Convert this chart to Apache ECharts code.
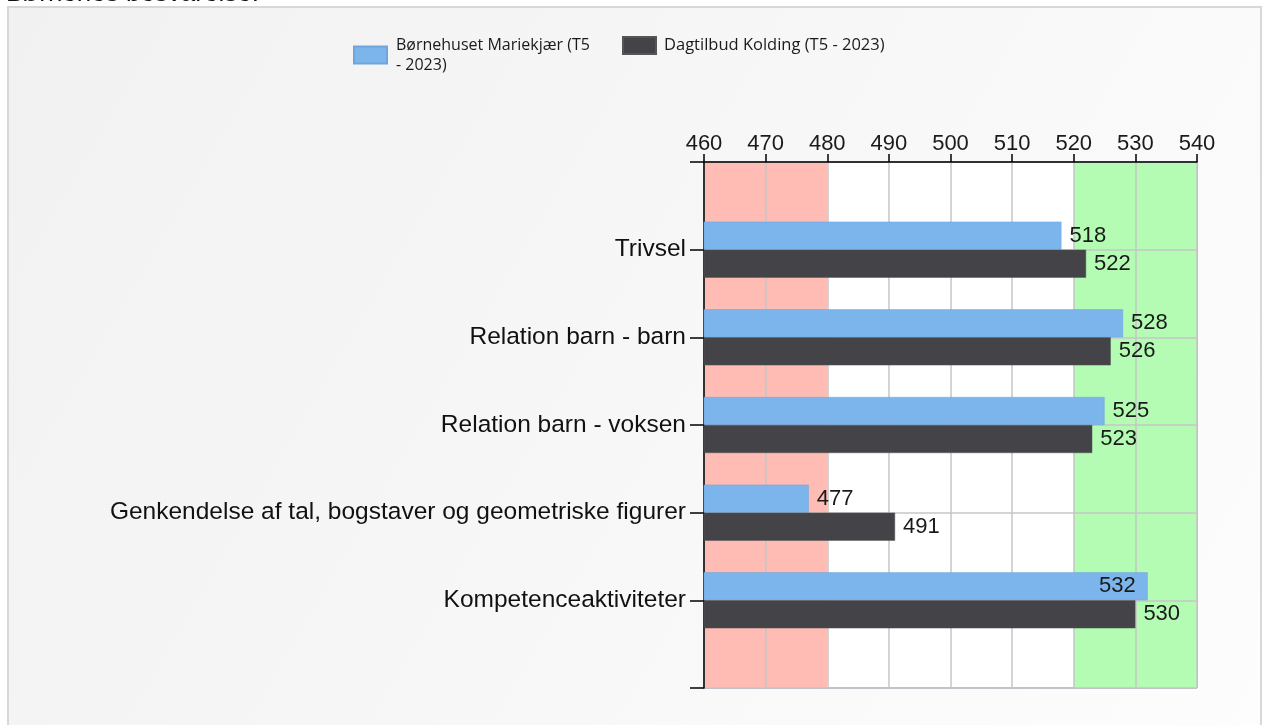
<!DOCTYPE html>
<html><head><meta charset="utf-8">
<script src="https://cdn.jsdelivr.net/npm/echarts@6/dist/echarts.min.js"></script>
<style>html,body{margin:0;padding:0;background:#fff;}#c{width:1264px;height:725px;}</style>
</head><body><div id="c"></div>
<script>
const categories = ['Trivsel', 'Relation barn - barn', 'Relation barn - voksen', 'Genkendelse af tal, bogstaver og geometriske figurer', 'Kompetenceaktiviteter'];
const seriesNames = ['Børnehuset Mariekjær (T5 - 2023)', 'Dagtilbud Kolding (T5 - 2023)'];
const valuesMariekjaer = [518, 528, 525, 477, 532];
const valuesKolding = [522, 526, 523, 491, 530];
const xTicks = [460, 470, 480, 490, 500, 510, 520, 530, 540];
const lowBand = [460, 480];
const highBand = [520, 540];
const titleText = 'Børnenes besvarelse.';

const cats = [''].concat(categories, ['']);
const pad = arr => [null].concat(arr, [null]);
const numFont = "'Liberation Sans Narrow', 'Arial Narrow', 'Liberation Sans', sans-serif";
const chart = echarts.init(document.getElementById('c'));
const d1 = pad(valuesMariekjaer).map((v, i) => v === null ? null : (i === 5 ? { value: v, label: { position: 'insideRight', distance: 12 } } : v));
const d2 = pad(valuesKolding);
chart.setOption({
  animation: false,
  graphic: [
    { type: 'rect', shape: { x: 8, y: 7, width: 1253, height: 730 }, z: -10,
      style: { fill: new echarts.graphic.LinearGradient(0, 0, 1, 1, [{ offset: 0, color: '#f1f1f1' }, { offset: 1, color: '#fdfdfd' }]), stroke: '#d8d8d8', lineWidth: 2 } },
    { type: 'text', x: 6, y: 7, z: 10, style: { text: titleText, font: "26px 'Liberation Sans', Arial, sans-serif", fill: '#111', textVerticalAlign: 'bottom', verticalAlign: 'bottom' } }
  ],
  legend: [
    { data: [seriesNames[0]], left: 353, top: 35, padding: 0, itemWidth: 33, itemHeight: 17, itemGap: 0,
      textStyle: { fontFamily: "'Open Sans', sans-serif", fontSize: 16, color: '#1a1a1a', lineHeight: 20, padding: [0, 0, 0, 4] },
      formatter: n => 'Børnehuset Mariekjær (T5\n- 2023)', icon: 'rect' },
    { data: [seriesNames[1]], left: 622, top: 36, padding: 0, itemWidth: 33, itemHeight: 17,
      textStyle: { fontFamily: "'Open Sans', sans-serif", fontSize: 16.5, color: '#1a1a1a', padding: [0, 0, 0, 3] }, icon: 'rect' }
  ],
  grid: { left: 704, right: 67, top: 162, bottom: 37, show: true, borderColor: '#5b7391', borderWidth: 1, backgroundColor: '#ffffff' },
  xAxis: {
    type: 'value', position: 'top', min: 460, max: 540, interval: 10, z: 1.5,
    axisLine: { show: true, lineStyle: { color: '#000', width: 1.5 } },
    axisTick: { show: true, length: 8, lineStyle: { color: '#000', width: 1.5 } },
    axisLabel: { fontFamily: numFont, fontSize: 22, color: '#1a1a1a', margin: 7 },
    splitLine: { show: true, lineStyle: { color: '#c6c6c6', width: 1.5 } }
  },
  yAxis: {
    type: 'category', data: cats, boundaryGap: false, inverse: true, z: 1.5,
    axisLine: { show: true, lineStyle: { color: '#000', width: 1.5 } },
    axisTick: { show: true, length: 14, interval: 0, lineStyle: { color: '#000', width: 1.5 } },
    axisLabel: { fontFamily: "'Liberation Sans', Arial, sans-serif", fontSize: 24.5, color: '#111', margin: 18, interval: 0 },
    splitLine: { show: true, interval: 0, lineStyle: { color: '#c6c6c6', width: 1.5 } }
  },
  series: [
    { name: seriesNames[0], type: 'bar', data: d1, barWidth: 28, barGap: '0%',
      itemStyle: { color: '#7cb5ec', borderColor: '#6fa5dc', borderWidth: 0.5 },
      label: { show: true, position: 'right', distance: 8, fontFamily: numFont, fontSize: 22, color: '#1a1a1a' },
      markArea: { silent: true, z: 1, data: [
        [{ xAxis: lowBand[0], itemStyle: { color: '#ffbcb4' } }, { xAxis: lowBand[1] }],
        [{ xAxis: highBand[0], itemStyle: { color: '#b4fcb4' } }, { xAxis: highBand[1] }]
      ] } },
    { name: seriesNames[1], type: 'bar', data: d2, barWidth: 28, barGap: '0%',
      itemStyle: { color: '#434348', borderColor: '#555', borderWidth: 0.5 },
      label: { show: true, position: 'right', distance: 8, fontFamily: numFont, fontSize: 22, color: '#1a1a1a' } }
  ]
});
</script></body></html>
